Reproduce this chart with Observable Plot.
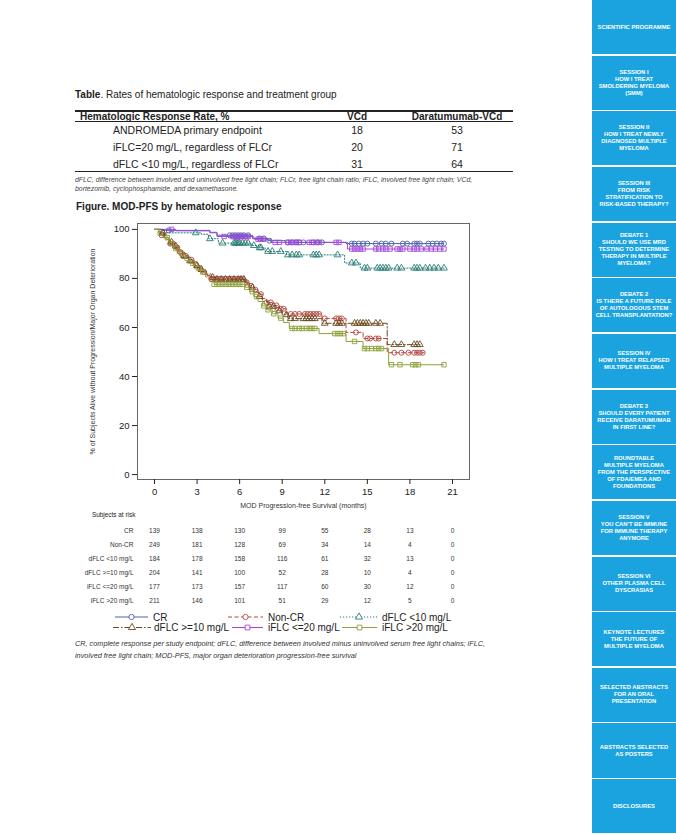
<!DOCTYPE html>
<html><head><meta charset="utf-8">
<script src="https://cdn.jsdelivr.net/npm/d3@7"></script>
<script src="https://cdn.jsdelivr.net/npm/@observablehq/plot@0.6"></script>
<style>
body{margin:0;width:676px;height:836px;position:relative;background:#fff;font-family:"Liberation Sans",Arial,sans-serif;color:#222;overflow:hidden}
.a{position:absolute;white-space:nowrap}
.rule{position:absolute;left:75px;width:438px;background:#222}
.t10{font-size:10px;line-height:12px}
.row{font-size:10.5px;line-height:12px}
.fn{font-size:6.9px;font-style:italic;line-height:9px;color:#444}
.c{transform:translateX(-50%)}
.side{position:absolute;left:592px;width:84px;background:#1ba3df;color:#fff;font-weight:bold;font-size:5.8px;line-height:7px;text-align:center;display:flex;align-items:center;justify-content:center;white-space:pre-line}
</style></head><body>
<div class="a t10" style="left:75px;top:89px"><b>Table</b>. Rates of hematologic response and treatment group</div>
<div class="rule" style="top:110px;height:1.6px"></div>
<div class="a t10" style="left:80px;top:111px;font-weight:bold">Hematologic Response Rate, %</div>
<div class="a t10 c" style="left:357px;top:111px;font-weight:bold">VCd</div>
<div class="a t10 c" style="left:457px;top:111px;font-weight:bold">Daratumumab-VCd</div>
<div class="rule" style="top:121px;height:1px"></div>
<div id="tbl"></div>
<div class="rule" style="top:170.5px;height:1.6px"></div>
<div class="a fn" style="left:75px;top:174.5px">dFLC, difference between involved and uninvolved free light chain; FLCr, free light chain ratio; iFLC, involved free light chain; VCd,</div>
<div class="a fn" style="left:75px;top:183.5px">bortezomib, cyclophosphamide, and dexamethasone.</div>
<div class="a t10" style="left:76px;top:201px;font-weight:bold">Figure. MOD-PFS by hematologic response</div>
<div id="main" class="a" style="left:60px;top:215px"></div>
<div class="a" style="left:92px;top:511px;font-size:6.4px;line-height:8px">Subjects at risk</div>
<div id="risk" class="a" style="left:60px;top:520px"></div>
<div id="legend" class="a" style="left:0px;top:608px"></div>
<div class="a fn" style="left:75px;top:639px;font-size:7.3px;color:#333">CR, complete response per study endpoint; dFLC, difference between involved minus uninvolved serum free light chains; iFLC,</div>
<div class="a fn" style="left:75px;top:651px;font-size:7.3px;color:#333">involved free light chain; MOD-PFS, major organ deterioration progression-free survival</div>
<div id="sidebar"></div>
<script>
// ---------- Table data ----------
const tableRows = ["ANDROMEDA primary endpoint", "iFLC=20 mg/L, regardless of FLCr", "dFLC <10 mg/L, regardless of FLCr"];
const vcd = [18, 20, 31];
const daraVcd = [53, 71, 64];

// ---------- KM series ----------
const seriesNames = ["CR", "Non-CR", "dFLC <10 mg/L", "dFLC >=10 mg/L", "iFLC <=20 mg/L", "iFLC >20 mg/L"];
const seriesColors = ["#4f62a6", "#b8453f", "#2a7d78", "#6b4b20", "#a347dd", "#8da33b"];
const seriesSymbols = ["circle", "circle", "triangle", "triangle", "square", "square"];
const seriesDash = [null, "4,2.5", "1.2,1.8", "6,2,1.5,2", null, null];

const crT = [0, 0.5, 3.9, 4.4, 6.9, 8.0, 9.2, 13.5];
const crS = [100, 99.6, 98.8, 97.6, 96.3, 95.4, 94.7, 94.2];
const crEnd = 20.4;
const crCens = [1.0, 5.3, 5.5, 5.7, 5.9, 6.1, 6.3, 6.6, 7.4, 7.7, 8.1, 9.4, 9.7, 10.0, 10.2, 10.5, 11.2, 11.5, 11.8, 13.9, 14.1, 14.4, 14.7, 15.0, 15.6, 16.0, 16.3, 16.7, 17.5, 17.8, 18.3, 18.5, 18.7, 19.3, 19.6, 19.9, 20.2, 20.4];

const ncrT = [0, 0.3, 0.5, 0.8, 1.1, 1.4, 1.7, 2.0, 2.4, 2.8, 3.1, 3.4, 3.7, 4.0, 6.4, 6.7, 7.0, 7.3, 7.6, 7.9, 8.3, 8.8, 9.3, 11.8, 13.5, 14.7, 16.4];
const ncrS = [100, 99.0, 97.6, 96.0, 94.2, 92.6, 90.8, 89.2, 87.6, 85.8, 84.2, 82.6, 81.2, 79.8, 78.4, 77.0, 75.4, 73.6, 71.8, 70.2, 69.0, 67.6, 65.5, 63.7, 58.0, 55.5, 49.7];
const ncrEnd = 19.0;
const ncrCens = [0.5, 1.1, 1.3, 1.6, 1.8, 2.0, 2.2, 2.6, 2.9, 3.2, 3.5, 4.0, 4.2, 4.4, 4.6, 4.8, 5.0, 5.2, 5.4, 5.6, 5.8, 6.0, 6.2, 6.5, 6.8, 7.1, 7.5, 7.9, 8.2, 8.6, 8.9, 9.1, 9.6, 9.9, 10.2, 10.6, 10.8, 11.0, 11.2, 11.4, 11.6, 12.0, 12.8, 13.0, 13.2, 14.2, 15.0, 15.2, 15.6, 15.8, 16.9, 17.4, 17.9, 18.3, 18.5, 18.7, 18.9];

const dlT = [0, 0.6, 3.3, 3.8, 4.5, 6.8, 7.3, 7.8, 9.3, 13.4, 14.5];
const dlS = [100, 98.6, 98.0, 96.2, 94.4, 93.4, 92.5, 91.0, 89.6, 86.3, 84.2];
const dlEnd = 20.4;
const dlCens = [2.9, 3.9, 4.8, 5.6, 5.7, 5.8, 5.9, 6.0, 6.2, 6.4, 6.6, 7.0, 7.4, 7.5, 8.0, 8.3, 8.9, 9.4, 9.7, 10.0, 10.2, 11.2, 11.4, 11.6, 12.9, 13.9, 14.2, 14.8, 15.0, 15.7, 15.9, 16.1, 16.3, 16.5, 17.1, 17.4, 18.3, 18.5, 18.7, 19.1, 19.4, 19.7, 20.0, 20.4];

const dhT = [0, 0.4, 0.7, 1.0, 1.3, 1.6, 2.0, 2.4, 2.8, 3.2, 3.6, 4.0, 4.3, 6.4, 6.7, 7.0, 7.3, 7.6, 8.0, 8.5, 9.0, 9.4, 11.8, 16.4];
const dhS = [100, 98.6, 96.8, 94.8, 93.2, 91.2, 89.2, 87.2, 85.2, 83.6, 81.8, 80.4, 79.6, 78.0, 76.2, 74.4, 72.6, 70.6, 68.6, 66.8, 65.2, 63.6, 61.7, 53.0];
const dhEnd = 18.7;
const dhCens = [0.6, 1.2, 1.5, 2.1, 2.5, 3.0, 3.3, 4.1, 4.4, 4.7, 5.0, 5.3, 5.6, 5.9, 6.1, 6.3, 6.9, 7.4, 8.1, 8.4, 8.8, 9.3, 9.6, 9.9, 10.5, 10.7, 10.9, 11.1, 11.3, 12.0, 12.8, 13.0, 13.2, 14.1, 14.3, 14.5, 14.7, 14.9, 15.1, 15.6, 15.9, 16.9, 17.4, 18.3, 18.5, 18.7];

const ilT = [0, 1.5, 3.9, 4.4, 7.0, 8.2, 13.6];
const ilS = [100, 99.4, 98.6, 97.1, 96.0, 94.7, 92.0];
const ilEnd = 20.4;
const ilCens = [1.2, 4.9, 5.5, 5.6, 5.8, 5.9, 6.1, 6.2, 6.4, 6.6, 7.3, 7.5, 7.7, 8.5, 8.8, 9.4, 9.6, 9.8, 10.0, 10.2, 10.9, 11.1, 11.4, 11.6, 12.8, 13.0, 13.9, 14.1, 14.3, 14.5, 14.7, 15.6, 15.8, 16.1, 16.3, 16.6, 17.1, 17.3, 17.5, 18.0, 18.3, 18.5, 18.8, 19.2, 19.5, 19.8, 20.1, 20.4];

const ihT = [0, 0.3, 0.6, 1.0, 1.3, 1.6, 2.0, 2.4, 2.8, 3.2, 3.6, 3.9, 4.2, 6.4, 6.7, 7.0, 7.3, 7.6, 7.9, 8.3, 8.7, 9.1, 9.5, 11.6, 13.5, 14.7, 16.5];
const ihS = [100, 98.4, 96.6, 94.2, 92.2, 90.2, 88.2, 86.2, 84.2, 82.6, 80.6, 78.8, 77.6, 76.4, 74.6, 72.6, 70.6, 68.8, 67.2, 65.6, 63.8, 62.0, 59.6, 57.5, 54.3, 51.4, 44.8];
const ihEnd = 20.4;
const ihCens = [0.4, 0.9, 1.2, 1.5, 1.9, 2.3, 2.7, 3.1, 3.4, 4.2, 4.4, 4.6, 4.8, 5.0, 5.2, 5.4, 5.6, 5.8, 6.0, 6.2, 6.5, 6.9, 7.2, 7.7, 8.0, 8.4, 8.9, 9.7, 9.9, 10.2, 10.4, 10.7, 10.9, 11.1, 11.3, 12.7, 12.9, 13.1, 13.3, 14.1, 14.8, 15.0, 15.3, 15.6, 15.8, 16.0, 16.7, 17.3, 18.2, 18.4, 18.6, 20.4];

// ---------- axes ----------
const xTicks = [0, 3, 6, 9, 12, 15, 18, 21];
const yTicks = [0, 20, 40, 60, 80, 100];
const xLabel = "MOD Progression-free Survival (months)";
const yLabel = "% of Subjects Alive without Progression/Major Organ Deterioration";

// ---------- at risk ----------
const riskTimes = [0, 3, 6, 9, 12, 15, 18, 21];
const riskCR = [139, 138, 130, 99, 55, 28, 13, 0];
const riskNonCR = [249, 181, 128, 69, 34, 14, 4, 0];
const riskDlow = [184, 178, 158, 116, 61, 32, 13, 0];
const riskDhigh = [204, 141, 100, 52, 28, 10, 4, 0];
const riskIlow = [177, 173, 157, 117, 60, 30, 12, 0];
const riskIhigh = [211, 146, 101, 51, 29, 12, 5, 0];

// ---------- sidebar ----------
const sideItems = [
  "SCIENTIFIC PROGRAMME",
  "SESSION I\nHOW I TREAT\nSMOLDERING MYELOMA\n(SMM)",
  "SESSION II\nHOW I TREAT NEWLY\nDIAGNOSED MULTIPLE\nMYELOMA",
  "SESSION III\nFROM RISK\nSTRATIFICATION TO\nRISK-BASED THERAPY?",
  "DEBATE 1\nSHOULD WE USE MRD\nTESTING TO DETERMINE\nTHERAPY IN MULTIPLE\nMYELOMA?",
  "DEBATE 2\nIS THERE A FUTURE ROLE\nOF AUTOLOGOUS STEM\nCELL TRANSPLANTATION?",
  "SESSION IV\nHOW I TREAT RELAPSED\nMULTIPLE MYELOMA",
  "DEBATE 3\nSHOULD EVERY PATIENT\nRECEIVE DARATUMUMAB\nIN FIRST LINE?",
  "ROUNDTABLE\nMULTIPLE MYELOMA\nFROM THE PERSPECTIVE\nOF FDA/EMEA AND\nFOUNDATIONS",
  "SESSION V\nYOU CAN'T BE IMMUNE\nFOR IMMUNE THERAPY\nANYMORE",
  "SESSION VI\nOTHER PLASMA CELL\nDYSCRASIAS",
  "KEYNOTE LECTURES\nTHE FUTURE OF\nMULTIPLE MYELOMA",
  "SELECTED ABSTRACTS\nFOR AN ORAL\nPRESENTATION",
  "ABSTRACTS SELECTED\nAS POSTERS",
  "DISCLOSURES"
];

// ---------- build page ----------
const tbl = document.getElementById("tbl");
tableRows.forEach((r, i) => {
  const top = 124 + i * 17;
  tbl.insertAdjacentHTML("beforeend",
    `<div class="a row" style="left:113px;top:${top}px">${r.replace("<", "&lt;")}</div>` +
    `<div class="a row c" style="left:357px;top:${top}px">${vcd[i]}</div>` +
    `<div class="a row c" style="left:457px;top:${top}px">${daraVcd[i]}</div>`);
});

const sb = document.getElementById("sidebar");
sideItems.forEach((s, i) => {
  const d = document.createElement("div");
  d.className = "side";
  d.style.top = (i * 55.65) + "px";
  d.style.height = "54.2px";
  d.textContent = s;
  sb.appendChild(d);
});

const seriesT = [crT, ncrT, dlT, dhT, ilT, ihT];
const seriesS = [crS, ncrS, dlS, dhS, ilS, ihS];
const seriesEnd = [crEnd, ncrEnd, dlEnd, dhEnd, ilEnd, ihEnd];
const seriesCens = [crCens, ncrCens, dlCens, dhCens, ilCens, ihCens];
const riskAll = [riskCR, riskNonCR, riskDlow, riskDhigh, riskIlow, riskIhigh];

function stepAt(T, S, t) {
  let v = S[0];
  for (let j = 0; j < T.length; j++) if (T[j] <= t) v = S[j];
  return v;
}

const font = "'Liberation Sans', Arial, sans-serif";
const lineMarks = seriesNames.map((name, i) => {
  const rows = seriesT[i].map((t, j) => ({series: name, t, s: seriesS[i][j]}));
  rows.push({series: name, t: seriesEnd[i], s: seriesS[i][seriesS[i].length - 1]});
  return Plot.line(rows, {x: "t", y: "s", stroke: "series", curve: "step-after", strokeWidth: 1,
    strokeDasharray: seriesDash[i] || undefined});
});
const censRows = [];
seriesNames.forEach((name, i) => {
  seriesCens[i].forEach(t => censRows.push({series: name, t, s: stepAt(seriesT[i], seriesS[i], t)}));
});

const main = Plot.plot({
  width: 420, height: 300,
  marginLeft: 77, marginRight: 11, marginTop: 8, marginBottom: 36,
  x: {domain: [-1.2, 22.2]},
  y: {domain: [-2.0, 102.4]},
  color: {domain: seriesNames, range: seriesColors},
  symbol: {domain: seriesNames, range: seriesSymbols},
  style: {fontFamily: font, fontSize: "9.5px", color: "#222", background: "transparent", overflow: "visible"},
  marks: [
    Plot.frame({stroke: "#666", strokeWidth: 1}),
    Plot.axisX({ticks: xTicks, tickSize: 5, tickPadding: 4, label: null, fontSize: 9.5}),
    Plot.axisY({ticks: yTicks, tickSize: 5, tickPadding: 3, label: null, fontSize: 9.5}),
    ...lineMarks,
    Plot.dot(censRows, {x: "t", y: "s", stroke: "series", symbol: "series", r: 2.5, fill: "none", strokeWidth: 0.9}),
    Plot.text([xLabel], {frameAnchor: "bottom", dy: 28, text: d => d, fontSize: 7, fill: "#333", textAnchor: "middle"}),
    Plot.text([yLabel], {frameAnchor: "left", dx: -45, rotate: -90, text: d => d, fontSize: 7, fill: "#333", textAnchor: "middle"})
  ]
});
document.getElementById("main").appendChild(main);

const riskRows = [];
seriesNames.forEach((name, i) => riskTimes.forEach((t, j) => riskRows.push({series: name, t, n: riskAll[i][j]})));
const risk = Plot.plot({
  width: 420, height: 90,
  marginLeft: 77, marginRight: 11, marginTop: 0, marginBottom: 0,
  x: {domain: [-1.2, 22.2], axis: null},
  y: {type: "point", domain: seriesNames, range: [9, 80], padding: 0, axis: null},
  style: {fontFamily: font, fontSize: "6.5px", color: "#333", background: "transparent"},
  marks: [
    Plot.axisY({tickSize: 0, tickPadding: 4, label: null, fontSize: 6.5}),
    Plot.text(riskRows, {x: "t", y: "series", text: "n", fontSize: 6.5, fill: "#333"})
  ]
});
document.getElementById("risk").appendChild(risk);

// legend
const legendPos = [
  {x1: 115, x2: 148, tx: 153, y: 9},
  {x1: 228, x2: 263, tx: 268, y: 9},
  {x1: 340, x2: 378, tx: 382, y: 9},
  {x1: 113, x2: 151, tx: 154, y: 19.5},
  {x1: 232, x2: 263, tx: 268, y: 19.5},
  {x1: 342, x2: 377, tx: 382, y: 19.5}
];
const symType = {circle: d3.symbolCircle, triangle: d3.symbolTriangle, square: d3.symbolSquare};
const lg = d3.create("svg").attr("width", 520).attr("height", 28);
seriesNames.forEach((name, i) => {
  const p = legendPos[i];
  lg.append("line").attr("x1", p.x1).attr("x2", p.x2).attr("y1", p.y).attr("y2", p.y)
    .attr("stroke", seriesColors[i]).attr("stroke-width", 1.1)
    .attr("stroke-dasharray", seriesDash[i] || null);
  lg.append("path").attr("d", d3.symbol(symType[seriesSymbols[i]], 22)())
    .attr("transform", `translate(${(p.x1 + p.x2) / 2},${p.y})`)
    .attr("fill", "white").attr("stroke", seriesColors[i]).attr("stroke-width", 0.9);
  lg.append("text").attr("x", p.tx).attr("y", p.y).attr("dy", "0.35em")
    .attr("font-family", font).attr("font-size", 10).attr("fill", "#222").text(name);
});
document.getElementById("legend").appendChild(lg.node());
</script>
</body></html>
